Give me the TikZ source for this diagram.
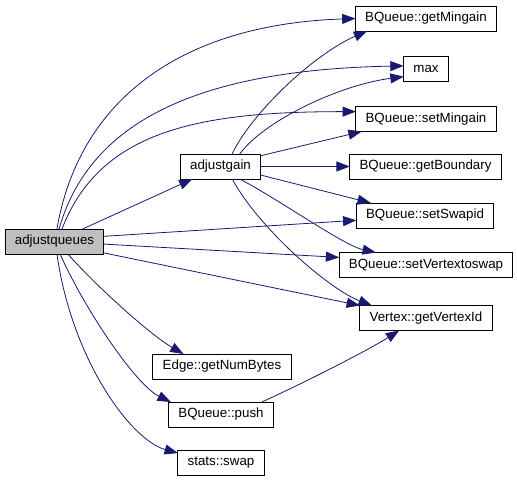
\documentclass[tikz,border=0pt]{standalone}
\usepackage{fontspec}
\setmainfont{Liberation Sans}
\usepackage{xcolor}
\usepackage{tikz}
\usetikzlibrary{arrows.meta, positioning}
\definecolor{callblue}{HTML}{191970}
\definecolor{rootgray}{HTML}{BFBFBF}
\tikzset{
  fnbox/.style = {rectangle, draw=black, line width=0.75pt, fill=white,
    inner xsep=7.3pt, minimum height=18.75pt, outer sep=0pt},
  rootbox/.style = {fnbox, fill=rootgray},
  call/.style = {draw=callblue, line width=0.6pt,
    -{Triangle[length=10pt, width=7.5pt, fill=callblue]}},
}
\begin{document}
\begin{tikzpicture}[x=0.75pt, y=-0.75pt]
  \useasboundingbox (0,0) rectangle (517,479);
  \node[rootbox] (aq)    at (54.5,241.5) {adjustqueues};
  \node[fnbox]   (ag)    at (220.5,166.5) {adjustgain};
  \node[fnbox]   (gmg)   at (426,18.5)   {BQueue::getMingain};
  \node[fnbox]   (max)   at (426,69)     {max};
  \node[fnbox]   (smg)   at (426,119)    {BQueue::setMingain};
  \node[fnbox]   (gb)    at (425.5,166.5) {BQueue::getBoundary};
  \node[fnbox]   (ssw)   at (425,215.5)  {BQueue::setSwapid};
  \node[fnbox]   (svs)   at (426,265)    {BQueue::setVertextoswap};
  \node[fnbox]   (gvi)   at (426,318)    {Vertex::getVertexId};
  \node[fnbox]   (gnb)   at (222,366.5)  {Edge::getNumBytes};
  \node[fnbox]   (push)  at (221,414.5)  {BQueue::push};
  \node[fnbox]   (swap)  at (221,463)    {stats::swap};

  \draw[call] (aq.79) .. controls +(22,-128) and +(-176,6) .. (gmg.west);
  \draw[call] (aq.70) .. controls +(31,-109) and +(-203,4) .. (max.172);
  \draw[call] (aq.59) .. controls +(38,-99) and +(-156,0) .. (smg.174);
  \draw[call] (aq.24) -- (ag.204);
  \draw[call] (aq.6) -- (ssw.184);
  \draw[call] (aq.357) -- (svs.175);
  \draw[call] (aq.347) -- (gvi.north west);
  \draw[call] (aq.317) .. controls +(27,31) and +(-33,-19) .. (gnb.162);
  \draw[call] (aq.294) .. controls +(25,56) and +(-35,-17) .. (push.166);
  \draw[call] (aq.281) .. controls +(15,106) and +(-47,-13) .. (swap.167);

  \draw[call] (ag.47) .. controls +(18,-39) and +(-55,24) .. (gmg.192);
  \draw[call] (ag.33) .. controls +(25,-34) and +(-63,8) .. (max.199);
  \draw[call] (ag.15) -- (smg.191);
  \draw[call] (ag.east) -- (gb.west);
  \draw[call] (ag.348) -- (ssw.167);
  \draw[call] (ag.327) .. controls +(40,21) and +(-32,-7) .. (svs.166);
  \draw[call] (ag.313) .. controls +(28,51) and +(-42,-16) .. (gvi.167);

  \draw[call] (push.17) .. controls +(48,-22) and +(-30,19) .. (gvi.205);
\end{tikzpicture}
\end{document}
